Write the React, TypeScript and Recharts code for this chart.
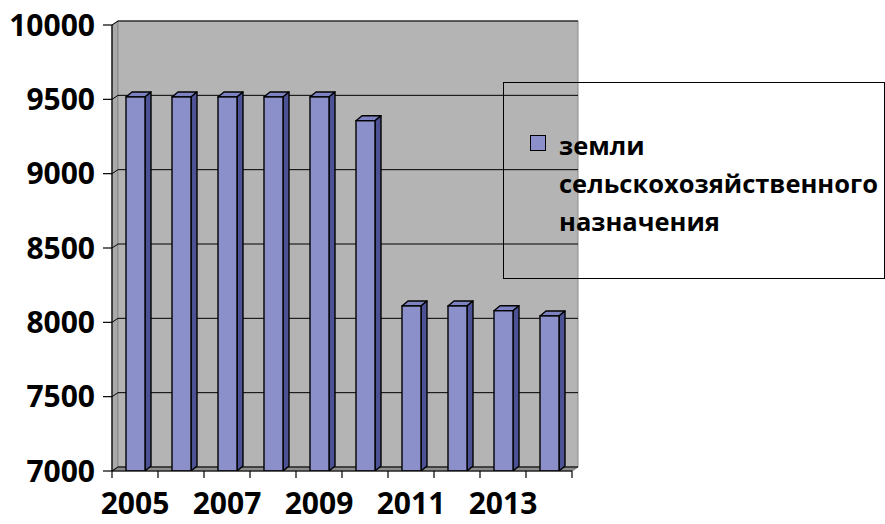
import React from "react";
import {
  BarChart,
  Bar,
  XAxis,
  YAxis,
  CartesianGrid,
  ReferenceArea,
  Legend,
} from "recharts";

const years = ["2005", "2006", "2007", "2008", "2009", "2010", "2011", "2012", "2013", "2014"];
const agriLand = [9516, 9516, 9516, 9516, 9516, 9356, 8110, 8110, 8078, 8043];
const yTicks = [7000, 7500, 8000, 8500, 9000, 9500, 10000];
const seriesName = "земли сельскохозяйственного назначения";

const data = years.map((year, i) => ({ year, value: agriLand[i] }));

const W = 885;
const H = 524;
const PLOT_LEFT = 112;
const PLOT_RIGHT = 572;
const PLOT_BOTTOM = 471;
const BAND = (PLOT_RIGHT - PLOT_LEFT) / years.length;
const DX = 6; // depth of the 3d walls
const DY = -4;
const FONT = "'Open Sans', sans-serif";

// back wall, side wall and floor
const Walls = (props: any) => {
  const { x, y, width, height } = props;
  const r = x + width;
  const b = y + height;
  return (
    <g>
      <polygon
        points={`${x},${y} ${x + DX},${y + DY} ${x + DX},${b + DY} ${x},${b}`}
        fill="#a9a9a9"
        stroke="#808080"
        strokeWidth={1}
      />
      <rect x={x + DX} y={y + DY} width={width} height={height} fill="#b4b4b4" stroke="#8a8a8a" strokeWidth={1} />
      <polygon
        points={`${x},${b} ${x + DX},${b + DY} ${r + DX},${b + DY} ${r},${b}`}
        fill="#8c8c8c"
        stroke="#6e6e6e"
        strokeWidth={1}
      />
    </g>
  );
};

// grid line on the back wall + short diagonal on the side wall
const GridLine = (props: any) => {
  const { x1, y1, x2, y2 } = props;
  return (
    <g key={props.key}>
      <line x1={x1} y1={y1} x2={x1 + DX} y2={y1 + DY} stroke="#000" strokeWidth={1} />
      <line x1={x1 + DX} y1={y1 + DY} x2={x2 + DX} y2={y2 + DY} stroke="#000" strokeWidth={1} />
    </g>
  );
};

const Bar3D = (props: any) => {
  const { x, y, width, height } = props;
  const r = x + width;
  const b = y + height;
  return (
    <g>
      <polygon
        points={`${x},${y} ${x + DX},${y - 5} ${r + DX},${y - 5} ${r},${y}`}
        fill="#7c82c2"
        stroke="#000"
        strokeWidth={1.4}
        strokeLinejoin="round"
      />
      <polygon
        points={`${r},${y} ${r + DX},${y - 5} ${r + DX},${b - 5} ${r},${b}`}
        fill="#4c5294"
        stroke="#000"
        strokeWidth={1.4}
        strokeLinejoin="round"
      />
      <rect x={x} y={y} width={width} height={height} fill="#8c90ca" stroke="#000" strokeWidth={1.4} />
    </g>
  );
};

const YearTick = (props: any) => {
  const { x, y, index, payload } = props;
  const left = x - BAND / 2;
  return (
    <g>
      <line x1={left} y1={y} x2={left} y2={y + 7} stroke="#000" strokeWidth={1.2} />
      {index === years.length - 1 && (
        <line x1={x + BAND / 2} y1={y} x2={x + BAND / 2} y2={y + 7} stroke="#000" strokeWidth={1.2} />
      )}
      {index % 2 === 0 && (
        <text x={x} y={y + 43} textAnchor="middle" fontFamily={FONT} fontWeight={700} fontSize={30} fill="#000">
          {payload.value}
        </text>
      )}
    </g>
  );
};

const LegendBox = () => (
  <div
    style={{
      position: "relative",
      width: "100%",
      height: "100%",
      fontFamily: FONT,
      fontWeight: 700,
      fontSize: 25.5,
      lineHeight: "38px",
      color: "#000",
    }}
  >
    <span
      style={{
        position: "absolute",
        left: 26,
        top: 52,
        width: 14,
        height: 14,
        background: "#8c90ca",
        border: "1px solid #000",
      }}
    />
    <div style={{ position: "absolute", left: 55, top: 43, width: 325 }}>{seriesName}</div>
  </div>
);

export default function App() {
  return (
    <div style={{ position: "absolute", left: 0, top: 0, width: W, height: H, background: "#fff" }}>
      <BarChart
        width={W}
        height={H}
        data={data}
        margin={{ top: 25, right: W - PLOT_RIGHT, bottom: 0, left: 0 }}
        barCategoryGap={0}
      >
        <ReferenceArea y1={7000} y2={10000} shape={<Walls />} zIndex={-200} ifOverflow="visible" />
        <CartesianGrid vertical={false} horizontal={(p: any) => <GridLine {...p} />} />
        <YAxis
          width={PLOT_LEFT}
          domain={[7000, 10000]}
          ticks={yTicks}
          interval={0}
          allowDataOverflow
          tickSize={9}
          tickMargin={8}
          axisLine={{ stroke: "#000", strokeWidth: 1.2 }}
          tickLine={{ stroke: "#000", strokeWidth: 1.2 }}
          tick={{ fill: "#000", fontFamily: FONT, fontWeight: 700, fontSize: 30 }}
        />
        <XAxis
          dataKey="year"
          height={H - PLOT_BOTTOM}
          interval={0}
          tickSize={0}
          tickMargin={0}
          tickLine={false}
          axisLine={{ stroke: "#000", strokeWidth: 1.2 }}
          tick={<YearTick />}
        />
        <Bar
          dataKey="value"
          name={seriesName}
          barSize={19}
          shape={<Bar3D />}
          isAnimationActive={false}
        />
        <Legend
          layout="horizontal"
          align="center"
          verticalAlign="middle"
          content={() => <LegendBox />}
          wrapperStyle={{
            position: "absolute",
            left: 503,
            top: 82,
            width: 382,
            height: 197,
            border: "1px solid #000",
            boxSizing: "border-box",
          }}
        />
      </BarChart>
    </div>
  );
}
